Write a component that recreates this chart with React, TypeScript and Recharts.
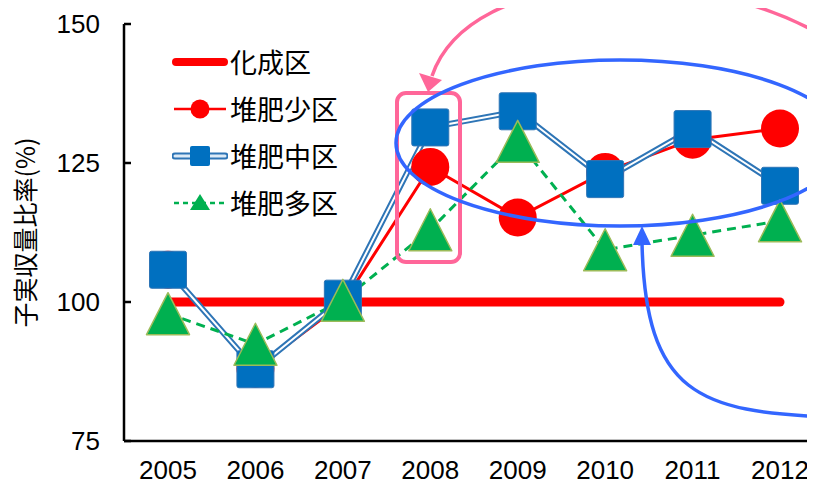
import React from 'react';
import { LineChart, Line, XAxis, YAxis, Legend } from 'recharts';

const years = ['2005', '2006', '2007', '2008', '2009', '2010', '2011', '2012'];
const seriesNames = ['化成区', '堆肥少区', '堆肥中区', '堆肥多区'];
const kaseiValues = [100, 100, 100, 100, 100, 100, 100, 100];
const shouValues = [105.8, 88.0, 99.8, 124.3, 115.2, 123.4, 129.2, 131.2];
const chuuValues = [105.8, 87.9, 100.6, 131.4, 134.3, 122.1, 131.1, 120.9];
const taValues = [97.9, 92.4, 100.3, 113.0, 128.9, 109.4, 112.0, 114.6];
const yTicks = [75, 100, 125, 150];

const chartData = years.map((year, i) => ({
  year,
  kasei: kaseiValues[i],
  shou: shouValues[i],
  chuu: chuuValues[i],
  ta: taValues[i],
}));

const RED = '#FF0000';
const BLUE = '#0070C0';
const GREEN = '#00B050';
const NUM_FONT = '"Liberation Sans", Arial, sans-serif';
const JP_FONT = '"Noto Sans CJK JP", sans-serif';

const CircleDot = (props: any) => {
  const { cx, cy, index } = props;
  if (cx == null || cy == null) return null;
  return <circle key={`c-${index}`} cx={cx} cy={cy} r={19} fill={RED} />;
};

const SquareDot = (props: any) => {
  const { cx, cy, index } = props;
  if (cx == null || cy == null) return null;
  return (
    <rect key={`s-${index}`} x={cx - 18.5} y={cy - 18.5} width={37} height={37} rx={2}
      fill={BLUE} stroke="#2E75B6" strokeWidth={1} />
  );
};

const TriangleDot = (props: any) => {
  const { cx, cy, index } = props;
  if (cx == null || cy == null) return null;
  return (
    <polygon key={`t-${index}`}
      points={`${cx},${cy - 21} ${cx + 21.5},${cy + 21} ${cx - 21.5},${cy + 21}`}
      fill={GREEN} stroke="#9BBB59" strokeWidth={1.5} strokeLinejoin="round" />
  );
};

const YTick = (props: any) => {
  const { x, y, payload } = props;
  return (
    <g>
      <line x1={x} x2={x + 7} y1={y} y2={y} stroke="#000" strokeWidth={2.5} />
      <text x={x - 24} y={y} dy="0.36em" textAnchor="end" fontSize={26}
        fontFamily={NUM_FONT} fill="#000">
        {payload.value}
      </text>
    </g>
  );
};

const YLabel = (props: any) => {
  const vb = props.viewBox || { y: 16, height: 417 };
  const cy = vb.y + vb.height / 2;
  const cx = 16;
  return (
    <text x={cx} y={cy} transform={`rotate(-90 ${cx} ${cy})`} textAnchor="middle"
      dominantBaseline="central" fontSize={25} fontFamily={JP_FONT} fill="#000">
      子実収量比率(%)
    </text>
  );
};

const LegendIcon = ({ idx }: { idx: number }) => {
  if (idx === 0) {
    return <line x1={4} x2={52} y1={15} y2={15} stroke={RED} strokeWidth={8} strokeLinecap="round" />;
  }
  if (idx === 1) {
    return (
      <g>
        <line x1={2} x2={54} y1={15} y2={15} stroke={RED} strokeWidth={2.5} />
        <circle cx={28} cy={15} r={9.5} fill={RED} />
      </g>
    );
  }
  if (idx === 2) {
    return (
      <g>
        <line x1={3} x2={53} y1={15} y2={15} stroke="#2E75B6" strokeWidth={7} strokeLinecap="round" />
        <line x1={3} x2={53} y1={15} y2={15} stroke="#DDEBF7" strokeWidth={3} strokeLinecap="round" />
        <rect x={18} y={5} width={20} height={20} rx={2} fill={BLUE} />
      </g>
    );
  }
  return (
    <g>
      <line x1={2} x2={54} y1={15} y2={15} stroke={GREEN} strokeWidth={2.5} strokeDasharray="5 4" />
      <polygon points="28,6 38,22 18,22" fill={GREEN} />
    </g>
  );
};

const LegendContent = () => (
  <div>
    {seriesNames.map((name, i) => (
      <div key={name} style={{ display: 'flex', alignItems: 'center', height: 47 }}>
        <svg width={56} height={30} style={{ display: 'block' }}>
          <LegendIcon idx={i} />
        </svg>
        <span style={{ fontFamily: JP_FONT, fontSize: 27, color: '#000', marginLeft: 2, lineHeight: 1 }}>
          {name}
        </span>
      </div>
    ))}
  </div>
);

const Annotations = () => (
  <svg width={830} height={482} style={{ position: 'absolute', left: 0, top: 0, pointerEvents: 'none' }}>
    <g transform="translate(-8,-8)" fill="none">
      <rect x={397} y={93} width={63} height={169} rx={9} stroke="#FF6699" strokeWidth={4} />
      <ellipse cx={620} cy={143} rx={224} ry={83} stroke="#3366FF" strokeWidth={3.5} />
      <path d="M 830 40 C 700 -40, 470 -35, 432 76" stroke="#FF6699" strokeWidth={3.5} />
      <polygon points="428,92 419,73 442,80" fill="#FF6699" />
      <path d="M 830 417 C 700 412, 645 395, 642 242" stroke="#3366FF" strokeWidth={3.5} />
      <polygon points="642,226 633,245 651,245" fill="#3366FF" />
    </g>
  </svg>
);

export default function App() {
  return (
    <div style={{ width: 807, height: 482, overflow: 'hidden', position: 'relative', background: '#fff' }}>
      <LineChart width={830} height={480} data={chartData}
        margin={{ top: 16, right: 14, bottom: 0, left: 56 }}>
        <XAxis dataKey="year" padding={{ left: 44, right: 44 }} interval={0}
          tickLine={false} tickSize={0} tickMargin={20} height={47}
          axisLine={{ stroke: '#000', strokeWidth: 2.5 }}
          tick={{ fontSize: 26, fill: '#000', fontFamily: NUM_FONT }} />
        <YAxis width={60} domain={[75, 150]} ticks={yTicks} interval={0}
          tickLine={false} tickSize={0} tickMargin={0}
          axisLine={{ stroke: '#000', strokeWidth: 2.5 }}
          tick={<YTick />} label={<YLabel />} />
        <Legend layout="vertical" align="center" verticalAlign="middle"
          content={<LegendContent />}
          wrapperStyle={{ left: 164, top: 30, width: 200, height: 190 }} />
        <Line dataKey="kasei" name={seriesNames[0]} stroke={RED} strokeWidth={9}
          strokeLinecap="round" dot={false} activeDot={false} isAnimationActive={false} />
        <Line dataKey="shou" name={seriesNames[1]} stroke={RED} strokeWidth={3}
          dot={<CircleDot />} activeDot={false} isAnimationActive={false} />
        <Line dataKey="chuu" name="chuu-outer" legendType="none" stroke="#2E75B6" strokeWidth={6}
          dot={false} activeDot={false} isAnimationActive={false} />
        <Line dataKey="chuu" name={seriesNames[2]} stroke="#FFFFFF" strokeWidth={2}
          dot={<SquareDot />} activeDot={false} isAnimationActive={false} />
        <Line dataKey="ta" name={seriesNames[3]} stroke={GREEN} strokeWidth={3}
          strokeDasharray="9 6" dot={<TriangleDot />} activeDot={false} isAnimationActive={false} />
      </LineChart>
      <Annotations />
    </div>
  );
}
